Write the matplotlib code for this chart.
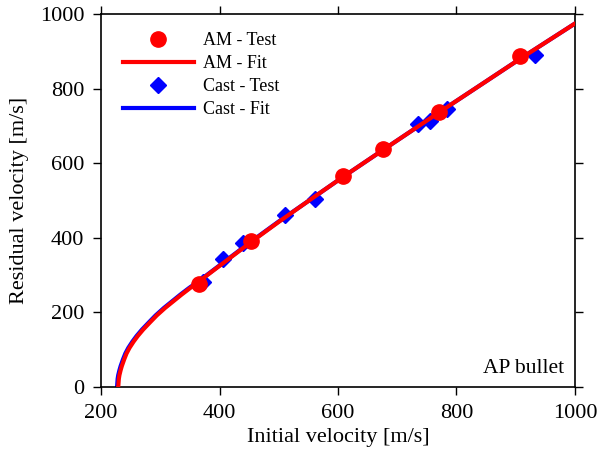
import matplotlib
matplotlib.use('Agg')
import matplotlib.pyplot as plt

plt.rcParams['font.family'] = ['Liberation Serif', 'DejaVu Serif']

# test data
am_vi = [365, 453, 608, 676, 770, 908]
am_vr = [275, 391, 566, 638, 737, 887]
cast_vi = [372, 406, 440, 511, 561, 735, 755, 784, 933]
cast_vr = [281, 343, 386, 461, 503, 705, 713, 745, 890]

# fit curves, points
am_fit_vi = [229, 230, 231, 233, 235, 239, 243, 248, 255, 262, 271, 283, 294, 308, 322,
             336, 350, 365, 400, 455, 500, 550, 607, 677, 770, 850, 908, 1000]
am_fit_vr = [0, 22, 32, 45, 56, 74, 90, 105, 122, 137, 154, 174, 192, 212, 230,
             248, 265, 283, 325, 391, 443, 499, 562, 637, 736, 820, 881, 975]
cast_fit_vi = [227, 228, 229, 231, 233, 237, 241, 246, 253, 260, 269, 281, 292, 306, 320,
               334, 348, 364, 399, 454, 499, 550, 607, 677, 770, 850, 908, 1000]
cast_fit_vr = [0, 22, 32, 45, 56, 74, 90, 105, 122, 137, 154, 174, 192, 212, 230,
               248, 265, 283, 325, 391, 443, 499, 562, 637, 736, 820, 881, 975]


def main():
    fig, ax = plt.subplots(figsize=(5.98, 4.58), dpi=100)
    fig.subplots_adjust(left=0.169, right=0.9615, top=0.969, bottom=0.155)

    ax.plot(cast_fit_vi, cast_fit_vr, color='blue', lw=3, zorder=2)
    ax.plot(am_fit_vi, am_fit_vr, color='red', lw=3, zorder=3)
    ax.plot(cast_vi, cast_vr, 'D', color='blue', ms=8, zorder=1)
    ax.plot(am_vi, am_vr, 'o', color='red', ms=11, zorder=4)

    # legend handles in the reference order
    h1, = ax.plot([], [], 'o', color='red', ms=11, label='AM - Test')
    h2, = ax.plot([], [], color='red', lw=3, label='AM - Fit')
    h3, = ax.plot([], [], 'D', color='blue', ms=8, label='Cast - Test')
    h4, = ax.plot([], [], color='blue', lw=3, label='Cast - Fit')
    ax.legend(handles=[h1, h2, h3, h4], loc='upper left', frameon=False,
              fontsize=13, handlelength=3.9, handletextpad=0.5, labelspacing=0.33,
              borderaxespad=0.3, bbox_to_anchor=(0.02, 0.985))

    ax.text(0.978, 0.05, 'AP bullet', transform=ax.transAxes,
            ha='right', va='center', fontsize=15.5)

    ax.set_xlim(200, 1000)
    ax.set_ylim(0, 1000)
    ax.set_xticks([200, 400, 600, 800, 1000])
    ax.set_yticks([0, 200, 400, 600, 800, 1000])
    ax.tick_params(direction='out', length=6, width=1, labelsize=16, pad=6,
                   top=True, right=True)
    for s in ax.spines.values():
        s.set_linewidth(1.2)

    ax.set_xlabel('Initial velocity [m/s]', fontsize=16, labelpad=4)
    ax.set_ylabel('Residual velocity [m/s]', fontsize=16, labelpad=8)

    fig.savefig('out.png', dpi=100)


if __name__ == '__main__':
    main()
